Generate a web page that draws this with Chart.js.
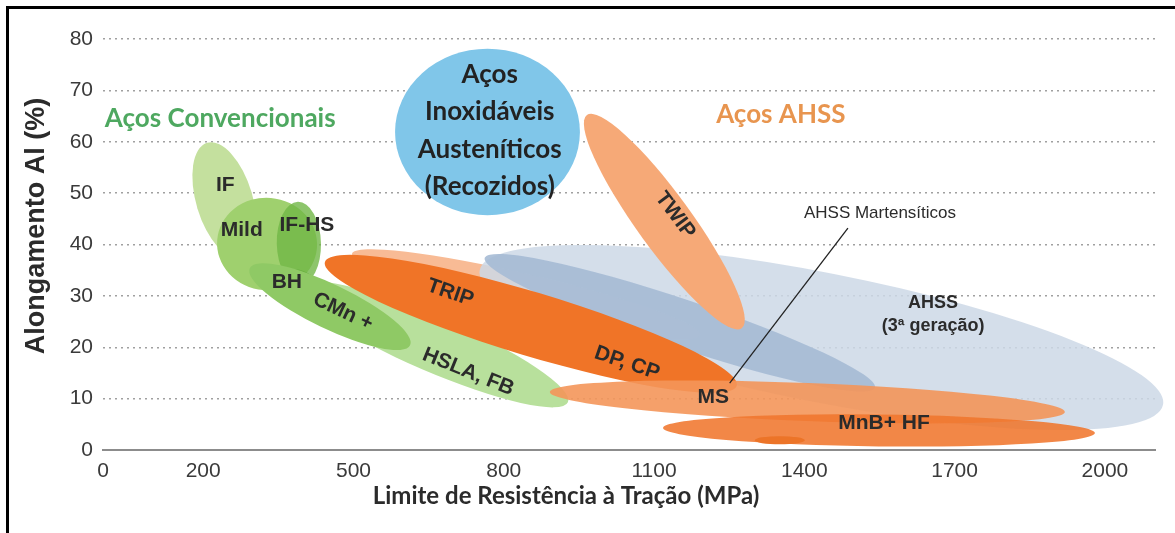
<!DOCTYPE html>
<html>
<head>
<meta charset="utf-8">
<script src="https://cdn.jsdelivr.net/npm/chart.js@4/dist/chart.umd.min.js"></script>
<style>
  body { margin: 0; background: #fff; }
  #wrap { position: relative; width: 1175px; height: 533px; }
  #frame { position: absolute; left: 6px; top: 6px; right: 0; bottom: 0;
           border-top: 3px solid #000; border-left: 3px solid #000; pointer-events: none; }
</style>
</head>
<body>
<div id="wrap">
  <canvas id="chart" width="1175" height="533"></canvas>
  <div id="frame"></div>
</div>
<script>
// axis ticks
const xTicks = [0, 200, 500, 800, 1100, 1400, 1700, 2000];
const yTicks = [0, 10, 20, 30, 40, 50, 60, 70, 80];

// each region = ellipse along the line start -> end, spread = half thickness in % elongation
// (listed back to front)
const regionNames = ['TRIP', 'AHSS 3ª geração', 'AHSS Martensíticos', 'Inoxidáveis Austeníticos', 'TWIP',
  'IF', 'Mild', 'IF-HS', 'BH', 'HSLA, FB', 'CMn +', 'TRIP / DP, CP', 'MS', 'MnB+ HF', 'MnB+ HF cauda'];
const startMPa = [497, 752, 762, 583, 966, 208, 228, 389, 317, 389, 293, 443, 892, 1118, 1301];
const startPct = [38.2, 35.0, 37.4, 61.9, 65.2, 59.8, 40.9, 48.3, 33.5, 31.9, 35.4, 36.6, 11.3, 4.3, 1.9];
const endMPa = [1192, 2116, 1541, 952, 1275, 277, 427, 393, 423, 928, 613, 1265, 1920, 1980, 1401];
const endPct = [22.4, 8.8, 12.1, 61.9, 23.7, 37.4, 39.3, 32.1, 32.7, 9.3, 20.4, 12.5, 7.4, 3.3, 1.9];
const spreadPct = [3.9, 12.6, 4.7, 16.2, 5.3, 5.5, 9.0, 4.3, 2.3, 5.3, 4.3, 6.2, 3.7, 3.1, 0.8];

const regionColors = ['#f8bb95', 'rgba(205,216,230,0.85)', 'rgba(166,187,213,0.9)', '#80c6e9', '#f6a977',
  '#c4e09e', '#9fd06e', 'rgba(112,182,70,0.8)', 'rgba(100,172,60,0.85)', '#b8e09c', '#8fc965',
  '#f07427', 'rgba(244,150,90,0.9)', 'rgba(240,118,45,0.88)', '#ec7428'];

const datasets = regionNames.map((name, i) => ({
  label: name,
  data: [{ x: startMPa[i], y: startPct[i] }, { x: endMPa[i], y: endPct[i] }],
  spread: spreadPct[i],
  backgroundColor: regionColors[i],
  pointRadius: 0,
  showLine: false
}));

const dark = '#2b2b2b';
const lbl = 'bold 21px "Liberation Sans"';
const calib = 'bold 26px Lato';
const annotations = [
  { text: 'IF', x: 244, y: 51.6, font: lbl },
  { text: 'Mild', x: 277, y: 42.8, font: lbl },
  { text: 'IF-HS', x: 407, y: 43.8, font: lbl },
  { text: 'BH', x: 367, y: 32.7, font: lbl },
  { text: 'CMn +', x: 479, y: 26.9, rot: 25, font: lbl },
  { text: 'HSLA, FB', x: 729, y: 15.2, rot: 22, font: lbl },
  { text: 'TRIP', x: 693, y: 30.6, rot: 19, font: lbl },
  { text: 'DP, CP', x: 1046, y: 16.9, rot: 19, font: lbl },
  { text: 'MS', x: 1218, y: 10.3, font: lbl },
  { text: 'MnB+ HF', x: 1559, y: 5.3, font: lbl },
  { text: 'TWIP', x: 1142, y: 45.7, rot: 53, font: lbl },
  { text: 'AHSS', x: 1657, y: 28.6, font: 'bold 18px "Liberation Sans"' },
  { text: '(3ª geração)', x: 1657, y: 24.1, font: 'bold 18px "Liberation Sans"' },
  { text: 'AHSS Martensíticos', x: 1551, y: 46.1, font: '17px "Liberation Sans"' },
  { text: 'Aços Convencionais', x: 234, y: 64.6, font: calib, color: '#4ea860' },
  { text: 'Aços AHSS', x: 1353, y: 65.2, font: calib, color: '#e8954f' },
  { text: 'Aços', x: 772, y: 73.0, font: calib, color: '#222' },
  { text: 'Inoxidáveis', x: 772, y: 65.8, font: calib, color: '#222' },
  { text: 'Austeníticos', x: 772, y: 58.4, font: calib, color: '#222' },
  { text: '(Recozidos)', x: 772, y: 51.2, font: calib, color: '#222' }
];
const leader = [{ x: 1251, y: 13.0 }, { x: 1487, y: 43.2 }];

const regionsPlugin = {
  id: 'regions',
  beforeDatasetsDraw(chart) {
    const { ctx, scales: { x, y } } = chart;
    const pxPerPct = y.getPixelForValue(0) - y.getPixelForValue(1);
    chart.data.datasets.forEach(ds => {
      const [a, b] = ds.data;
      const x1 = x.getPixelForValue(a.x), y1 = y.getPixelForValue(a.y);
      const x2 = x.getPixelForValue(b.x), y2 = y.getPixelForValue(b.y);
      const len = Math.hypot(x2 - x1, y2 - y1) / 2;
      ctx.save();
      ctx.fillStyle = ds.backgroundColor;
      ctx.beginPath();
      ctx.ellipse((x1 + x2) / 2, (y1 + y2) / 2, len, ds.spread * pxPerPct,
        Math.atan2(y2 - y1, x2 - x1), 0, Math.PI * 2);
      ctx.fill();
      ctx.restore();
    });
  },
  afterDatasetsDraw(chart) {
    const { ctx, scales: { x, y } } = chart;
    ctx.save();
    ctx.strokeStyle = '#222';
    ctx.lineWidth = 1.3;
    ctx.beginPath();
    ctx.moveTo(x.getPixelForValue(leader[0].x), y.getPixelForValue(leader[0].y));
    ctx.lineTo(x.getPixelForValue(leader[1].x), y.getPixelForValue(leader[1].y));
    ctx.stroke();
    ctx.textAlign = 'center';
    ctx.textBaseline = 'middle';
    annotations.forEach(a => {
      ctx.save();
      ctx.translate(x.getPixelForValue(a.x), y.getPixelForValue(a.y));
      if (a.rot) ctx.rotate(a.rot * Math.PI / 180);
      ctx.font = a.font;
      ctx.fillStyle = a.color || dark;
      ctx.fillText(a.text, 0, 0);
      ctx.restore();
    });
    // axis titles
    ctx.fillStyle = '#2b2b2b';
    ctx.font = 'bold 24px Lato';
    ctx.fillText('Limite de Resistência à Tração (MPa)', 566, 496);
    ctx.translate(37, 226);
    ctx.rotate(-Math.PI / 2);
    ctx.font = 'bold 27px "Liberation Sans"';
    ctx.fillText('Alongamento Al (%)', 0, 0);
    ctx.restore();
  }
};

const tickFont = { family: 'Liberation Sans', size: 21 };

new Chart(document.getElementById('chart'), {
  type: 'scatter',
  data: { datasets: datasets },
  plugins: [regionsPlugin],
  options: {
    responsive: false,
    animation: false,
    events: [],
    layout: { padding: { left: 0, right: 20, top: 39, bottom: 0 } },
    plugins: { legend: { display: false }, tooltip: { enabled: false } },
    scales: {
      x: {
        type: 'linear', min: 0, max: 2100,
        afterBuildTicks: s => { s.ticks = xTicks.map(v => ({ value: v })); },
        afterFit: s => { s.height = 83; },
        grid: { display: false, drawTicks: false },
        border: { display: true, color: '#8c8c8c', width: 2 },
        ticks: { color: '#3a3a3a', font: tickFont, padding: 9, maxRotation: 0, autoSkip: false,
          callback: v => String(v) }
      },
      y: {
        min: 0, max: 80,
        afterBuildTicks: s => { s.ticks = yTicks.map(v => ({ value: v })); },
        afterFit: s => { s.width = 103; },
        grid: { color: c => c.tick && c.tick.value === 0 ? 'rgba(0,0,0,0)' : '#a0a0a0', lineWidth: 1.5, drawTicks: false },
        border: { display: false, dash: [2, 4] },
        ticks: { color: '#3a3a3a', font: tickFont, padding: 10, callback: v => String(v) }
      }
    }
  }
});
</script>
</body>
</html>
